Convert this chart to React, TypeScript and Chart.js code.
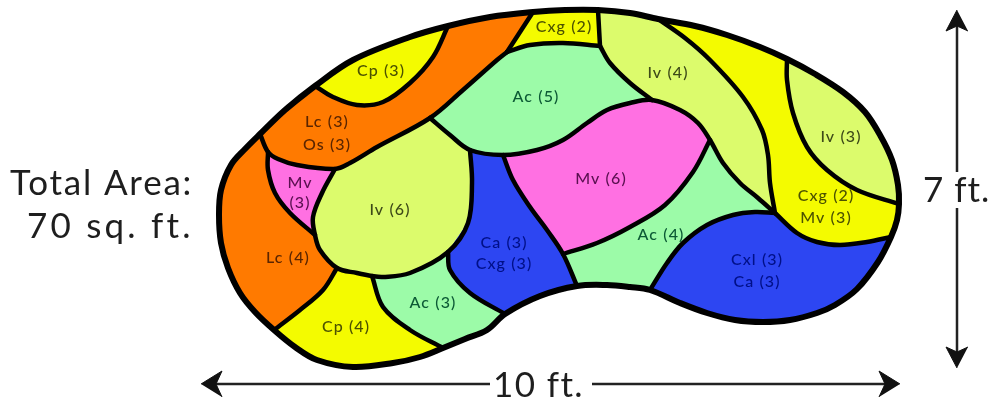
import React, { useEffect, useRef } from "react";
import { Chart, registerables } from "chart.js";

Chart.register(...registerables);

type P = [number, number];

// Outer bed outline, split at every junction
const outerAB: P[] = [[260,134],[285,110],[315,86]];
const outerBC: P[] = [[315,86],[353,60],[410,37],[448,26]];
const outerCD: P[] = [[448,26],[490,17],[533,12]];
const outerDE: P[] = [[533,12],[565,10],[598,10]];
const outerEF: P[] = [[598,10],[630,13],[658,19]];
const outerFG: P[] = [[658,19],[695,26],[727,35],[760,47],[787,59]];
const outerGH: P[] = [[787,59],[815,74],[843,92],[865,112],[880,135],[892,160],[898,185],[899,204]];
const outerHI: P[] = [[899,204],[897,220],[891,237]];
const outerIJ: P[] = [[891,237],[878,262],[857,289],[835,305],[817,313],[790,320],[763,322],[735,320],[707,313],[680,303],[650,290]];
const outerJK: P[] = [[650,290],[630,287],[607,285],[577,286]];
const outerKL: P[] = [[577,286],[540,296],[505,314]];
const outerLM: P[] = [[505,314],[487,330],[465,339],[443,348]];
const outerMN: P[] = [[443,348],[420,357],[393,363],[353,367],[317,360],[295,347],[274,330]];
const outerNA: P[] = [[274,330],[255,312],[240,293],[228,268],[221,243],[219,215],[221,190],[231,165],[245,149],[260,134]];

// Inner borders
const cp3Lower: P[] = [[315,86],[333,97],[357,105],[383,102],[410,83],[433,57],[448,26]];
const orangeLowA: P[] = [[260,134],[268,152]];
const orangeLowB: P[] = [[268,152],[278,159],[297,165],[335,169]];
const orangeLowC: P[] = [[335,169],[350,163],[377,147],[430,118]];
const orangeUp: P[] = [[430,118],[463,90],[497,60],[507,52]];
const orangeRight: P[] = [[507,52],[533,12]];
const cxgLower: P[] = [[507,52],[530,45],[563,43],[600,46]];
const cxgRight: P[] = [[598,10],[600,46]];
const iv4LeftA: P[] = [[600,46],[610,63],[630,83],[652,100]];
const iv4LeftB: P[] = [[652,100],[680,110],[698,123],[710,140]];
const iv4LeftC: P[] = [[710,140],[723,163],[740,183],[758,198],[775,213]];
const iv4Right: P[] = [[658,19],[685,38],[710,60],[743,97],[762,130],[768,155],[770,183],[775,213]];
const iv3Lower: P[] = [[787,59],[787,80],[793,113],[807,147],[827,170],[857,190],[899,204]];
const yellowLower: P[] = [[775,213],[797,233],[817,242],[840,245],[867,242],[891,237]];
const cxlTop: P[] = [[650,290],[667,263],[683,243],[707,225],[733,215],[755,212],[775,213]];
const ac5LowerA: P[] = [[430,118],[450,135],[470,150]];
const ac5LowerB: P[] = [[470,150],[503,155]];
const ac5LowerC: P[] = [[503,155],[537,150],[563,140],[587,123],[607,110],[630,103],[652,100]];
const blueRightA: P[] = [[503,155],[513,180],[530,207],[547,230],[563,254]];
const blueRightB: P[] = [[563,254],[577,286]];
const mv6Lower: P[] = [[563,254],[597,243],[630,227],[665,205],[693,172],[710,140]];
const iv6RightEdge: P[] = [[470,150],[472,183],[468,223],[448,252]];
const iv6BottomA: P[] = [[448,252],[410,273],[383,277],[372,276]];
const iv6BottomB: P[] = [[372,276],[357,273],[337,268]];
const iv6BottomC: P[] = [[337,268],[320,250],[315,235]];
const iv6LeftD: P[] = [[315,235],[313,217],[322,193],[335,169]];
const mv3Left: P[] = [[268,152],[268,170],[275,193],[290,213],[315,235]];
const lc4Right: P[] = [[337,268],[323,290],[300,310],[274,330]];
const cp4Right: P[] = [[372,276],[383,307],[410,330],[443,348]];
const ca3Left: P[] = [[448,252],[450,270],[470,293],[505,314]];

// Region fills
const areaColors = {
  orange: "#ff7a00",
  yellow: "#f4fb00",
  lime: "#dcfb6c",
  mint: "#9cfba8",
  pink: "#ff70e2",
  blue: "#2d46f2",
};
const rev = (e: P[]) => [...e].reverse();
const join = (...edges: P[][]) => edges.flatMap((e, i) => (i === 0 ? e : e.slice(1)));
const regionShapes: [string, P[][]][] = [
  [areaColors.yellow, [outerBC, rev(cp3Lower)]],
  [areaColors.orange, [outerAB, cp3Lower, outerCD, rev(orangeRight), rev(orangeUp), rev(orangeLowC), rev(orangeLowB), rev(orangeLowA)]],
  [areaColors.yellow, [outerDE, cxgRight, rev(cxgLower), orangeRight]],
  [areaColors.mint, [orangeUp, cxgLower, iv4LeftA, rev(ac5LowerC), rev(ac5LowerB), rev(ac5LowerA)]],
  [areaColors.lime, [outerEF, iv4Right, rev(iv4LeftC), rev(iv4LeftB), rev(iv4LeftA), rev(cxgRight)]],
  [areaColors.yellow, [outerFG, iv3Lower, outerHI, rev(yellowLower), rev(iv4Right)]],
  [areaColors.lime, [outerGH, rev(iv3Lower)]],
  [areaColors.blue, [outerIJ, cxlTop, yellowLower]],
  [areaColors.mint, [mv6Lower, iv4LeftC, rev(cxlTop), outerJK, rev(blueRightB)]],
  [areaColors.pink, [ac5LowerC, iv4LeftB, rev(mv6Lower), rev(blueRightA)]],
  [areaColors.blue, [ac5LowerB, blueRightA, blueRightB, outerKL, rev(ca3Left), rev(iv6RightEdge)]],
  [areaColors.lime, [orangeLowC, ac5LowerA, iv6RightEdge, iv6BottomA, iv6BottomB, iv6BottomC, iv6LeftD]],
  [areaColors.pink, [orangeLowB, rev(iv6LeftD), rev(mv3Left)]],
  [areaColors.orange, [outerNA, orangeLowA, mv3Left, rev(iv6BottomC), lc4Right]],
  [areaColors.yellow, [rev(lc4Right), rev(iv6BottomB), cp4Right, outerMN]],
  [areaColors.mint, [rev(iv6BottomA), ca3Left, outerLM, rev(cp4Right)]],
];

// Long continuous strokes, so curves do not kink at junctions
const outerEdges: P[][] = [join(outerAB, outerBC, outerCD, outerDE, outerEF, outerFG, outerGH, outerHI, outerIJ, outerJK, outerKL, outerLM, outerMN, outerNA, outerAB)];
const innerEdges: P[][] = [
  cp3Lower,
  join(orangeLowA, orangeLowB, orangeLowC, orangeUp),
  orangeRight, cxgLower, cxgRight, iv4LeftA,
  join(ac5LowerA, ac5LowerB, ac5LowerC, iv4LeftB, iv4LeftC),
  iv4Right, iv3Lower, yellowLower, cxlTop,
  join(blueRightA, blueRightB),
  mv6Lower,
  join(iv6RightEdge, iv6BottomA, iv6BottomB, iv6BottomC, iv6LeftD),
  mv3Left, lc4Right, cp4Right, ca3Left,
];

// Dimension arrows
const arrowShafts: P[][] = [
  [[210,384],[490,384]], [[592,384],[892,384]],
  [[957,20],[957,172]], [[957,208],[957,360]],
];
const arrowHeads: P[][] = [
  [[201,384],[222,371],[216,384],[222,397]],
  [[900,384],[879,371],[885,384],[879,397]],
  [[957,10],[946,31],[957,26],[968,31]],
  [[957,368],[946,347],[957,352],[968,347]],
];

// Labels
const labelTexts = ["Cp (3)","Lc (3)","Os (3)","Mv","(3)","Lc (4)","Iv (6)","Cp (4)","Ac (3)","Ca (3)","Cxg (3)","Ac (5)","Mv (6)","Ac (4)","Cxl (3)","Ca (3)","Cxg (2)","Iv (4)","Iv (3)","Cxg (2)","Mv (3)"];
const labelXs = [381,327,327,300,300,288,390,346,433,504,504,536,601,661,757,757,564,668,841,826,826];
const labelYs = [71,122,145,183,203,258,210,327,303,243,264,97,179,235,260,282,27,73,137,196,218];
const labelInks = ["#4c5200","#5a2500","#5a2500","#5a1050","#5a1050","#5a2500","#3d4a18","#4c5200","#0c5a35","#001088","#001088","#0c5a35","#5a1050","#0c5a35","#001088","#001088","#4c5200","#3d4a18","#3d4a18","#4c5200","#4c5200"];
const noteTexts = ["Total Area:","70 sq. ft.","10 ft.","7 ft."];
const noteXs = [10,27,493,923];
const noteYs = [195,238,397,202];
const noteSpacing = ["1.8px","3.2px","1.4px","1px"];

const pts = (a: P[]) => a.map(([x, y]) => ({ x, y }));

const textPlugin = {
  id: "gardenText",
  afterDatasetsDraw(chart: any) {
    const { ctx, scales } = chart;
    ctx.save();
    ctx.textBaseline = "middle";
    ctx.textAlign = "center";
    ctx.font = "500 16px Lato";
    (ctx as any).letterSpacing = "1.1px";
    labelTexts.forEach((t, i) => {
      ctx.fillStyle = labelInks[i];
      ctx.fillText(t, scales.x.getPixelForValue(labelXs[i]), scales.y.getPixelForValue(labelYs[i]));
    });
    ctx.textBaseline = "alphabetic";
    ctx.textAlign = "left";
    ctx.font = "400 35px Lato";
    ctx.fillStyle = "#1e1e1e";
    noteTexts.forEach((t, i) => {
      (ctx as any).letterSpacing = noteSpacing[i];
      ctx.fillText(t, scales.x.getPixelForValue(noteXs[i]), scales.y.getPixelForValue(noteYs[i]));
    });
    ctx.restore();
  },
};

export default function App() {
  const ref = useRef<HTMLCanvasElement>(null);
  useEffect(() => {
    document.body.style.margin = "0";
    const base = { pointRadius: 0, pointHoverRadius: 0, showLine: true };
    const fills = regionShapes.map(([color, edges]) => ({
      ...base,
      data: pts(join(...edges)),
      backgroundColor: color,
      borderColor: color,
      borderWidth: 1,
      fill: "shape",
      tension: 0,
    }));
    const strokes = (edges: P[][], width: number, tension: number) =>
      edges.map((e) => ({
        ...base,
        data: pts(e),
        borderColor: "#000",
        borderWidth: width,
        borderCapStyle: "round",
        borderJoinStyle: "round",
        fill: false,
        tension,
      }));
    const heads = arrowHeads.map((h) => ({
      ...base,
      data: pts(h),
      backgroundColor: "#111",
      borderColor: "#111",
      borderWidth: 1,
      fill: "shape",
      tension: 0,
    }));
    const shafts = arrowShafts.map((s) => ({
      ...base,
      data: pts(s),
      borderColor: "#222",
      borderWidth: 2.5,
      fill: false,
      tension: 0,
    }));
    const chart = new Chart(ref.current!, {
      type: "scatter",
      // Chart.js paints the first dataset last, so the top layers come first
      data: { datasets: [...heads, ...shafts, ...strokes(outerEdges, 6, 0.35), ...strokes(innerEdges, 4.5, 0.35), ...fills] as any },
      options: {
        animation: false,
        responsive: false,
        layout: { padding: 0 },
        plugins: { legend: { display: false }, tooltip: { enabled: false }, title: { display: false } },
        scales: {
          x: { type: "linear", min: 0, max: 992, display: false },
          y: { type: "linear", min: 0, max: 405, reverse: true, display: false },
        },
      },
      plugins: [textPlugin],
    });
    return () => chart.destroy();
  }, []);
  return <canvas ref={ref} width={992} height={405} style={{ display: "block" }} />;
}
